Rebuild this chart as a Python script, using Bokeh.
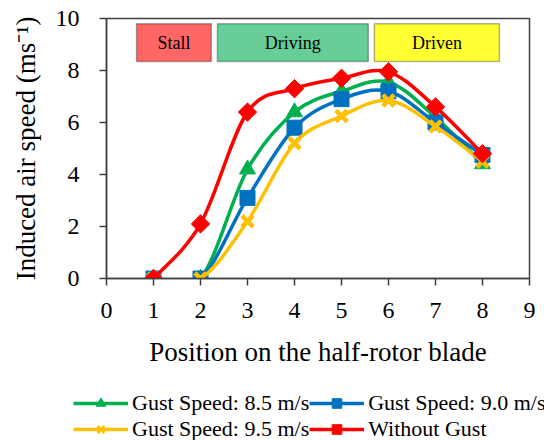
import math
from bokeh.plotting import figure
from bokeh.core.properties import value
from bokeh.models import (Legend, LegendItem, BoxAnnotation, FixedTicker,
                          Range1d, ColumnDataSource)
from bokeh.embed import file_html
from bokeh.resources import INLINE

positions = [1, 2, 3, 4, 5, 6, 7, 8]
gust_85 = [0, 0, 4.2, 6.4, 7.2, 7.55, 6.2, 4.4]
gust_90 = [0, 0, 3.1, 5.8, 6.9, 7.2, 6.0, 4.75]
gust_95 = [0, 0, 2.2, 5.2, 6.25, 6.85, 5.85, 4.5]
no_gust = [0, 2.1, 6.4, 7.3, 7.7, 7.95, 6.6, 4.8]

labels = ["Gust Speed: 8.5 m/s", "Gust Speed: 9.0 m/s",
          "Gust Speed: 9.5 m/s", "Without Gust"]
x_ticks = [0, 1, 2, 3, 4, 5, 6, 7, 8, 9]
y_ticks = [0, 2, 4, 6, 8, 10]
regions = ["Stall", "Driving", "Driven"]

FONT = "Liberation Serif"
NAN = float("nan")

p = figure(width=544, height=385, output_backend="svg", toolbar_location=None,
           x_range=Range1d(0, 9), y_range=Range1d(0, 10),
           min_border_left=106, min_border_right=15, min_border_top=18,
           min_border_bottom=107)
p.outline_line_color = "#404040"
p.outline_line_width = 1.5
p.grid.visible = False
p.background_fill_color = "white"
p.border_fill_color = "white"

for ax in (p.xaxis[0], p.yaxis[0]):
    ax.major_label_text_font = FONT
    ax.major_label_text_font_size = "24px"
    ax.major_label_text_color = "black"
    ax.axis_label_text_font = FONT
    ax.axis_label_text_font_style = "normal"
    ax.axis_label_text_color = "black"
    ax.axis_label_text_font_size = "27px"
    ax.minor_tick_line_color = None
    ax.major_tick_out = 7
    ax.major_tick_in = 0
    ax.axis_line_color = "#404040"
    ax.axis_line_width = 1.5
    ax.major_tick_line_color = "#404040"
    ax.major_tick_line_width = 1.5

p.xaxis[0].ticker = FixedTicker(ticks=x_ticks)
p.yaxis[0].ticker = FixedTicker(ticks=y_ticks)
p.xaxis[0].axis_label = "Position on the half-rotor blade"
p.yaxis[0].axis_label = "Induced air speed (ms\u207b\u00b9)"
p.xaxis[0].major_label_standoff = 17
p.yaxis[0].major_label_standoff = 20
p.xaxis[0].axis_label_standoff = 16
p.yaxis[0].axis_label_standoff = 12


def smooth(xs, ys, t=1/6):
    x0, y0, x1, y1, cx0, cy0, cx1, cy1 = [], [], [], [], [], [], [], []
    n = len(xs)
    for i in range(n - 1):
        xp, yp = (xs[i - 1], ys[i - 1]) if i > 0 else (xs[i], ys[i])
        xn, yn = (xs[i + 2], ys[i + 2]) if i + 2 < n else (xs[i + 1], ys[i + 1])
        x0.append(xs[i]); y0.append(ys[i])
        x1.append(xs[i + 1]); y1.append(ys[i + 1])
        cx0.append(xs[i] + (xs[i + 1] - xp) * t)
        cy0.append(ys[i] + (ys[i + 1] - yp) * t)
        cx1.append(xs[i + 1] - (xn - xs[i]) * t)
        cy1.append(ys[i + 1] - (yn - ys[i]) * t)
    return dict(x0=x0, y0=y0, x1=x1, y1=y1, cx0=cx0, cy0=cy0, cx1=cx1, cy1=cy1)


series = [
    (gust_85, "#00B050", "triangle", 16, 1, 0),
    (gust_90, "#0070C0", "square", 15, 1, 0),
    (gust_95, "#FFC000", "x", 16, 4.5, 0),
    (no_gust, "#FF0000", "square", 13, 1, math.pi / 4),
]

# region header boxes (under the data)
box_left = [0.64, 2.36, 5.70]
box_right = [2.23, 5.57, 8.36]
box_colors = ["#FF6666", "#66CE96", "#FFFF33"]
for l, r, c in zip(box_left, box_right, box_colors):
    p.add_layout(BoxAnnotation(left=l, right=r, bottom=8.35, top=9.8,
                               fill_color=c, fill_alpha=1, line_color="black",
                               line_width=1.5, level="underlay"))
txt_src = ColumnDataSource(dict(
    x=[(l + r) / 2 for l, r in zip(box_left, box_right)],
    y=[9.07] * 3, text=regions))
p.text(x="x", y="y", text="text", source=txt_src, text_align="center",
       text_baseline="middle", text_font=value(FONT), text_font_size="18px",
       text_color="black")

# legend figure (separate root so its frame spans the full width)
lf = figure(width=544, height=55, output_backend="svg", toolbar_location=None,
            x_range=Range1d(0, 1), y_range=Range1d(0, 1),
            x_axis_location=None, y_axis_location=None,
            min_border=0, outline_line_color=None)
lf.grid.visible = False

leg_items = []
for (vals, color, marker, size, lw, ang), lab in zip(series, labels):
    src = ColumnDataSource(smooth(positions, vals))
    p.bezier(x0="x0", y0="y0", x1="x1", y1="y1", cx0="cx0", cy0="cy0",
             cx1="cx1", cy1="cy1", source=src, line_color=color, line_width=3.5)
    p.scatter(positions, vals, marker=marker, size=size, fill_color=color,
              line_color=color, line_width=lw, angle=ang)
    pl = lf.line([NAN], [NAN], line_color=color, line_width=3.5)
    ps = lf.scatter([NAN], [NAN], marker=marker, fill_color=color,
                    line_color=color, line_width=min(lw, 3), angle=ang)
    leg_items.append(LegendItem(label=lab, renderers=[pl, ps]))

legend = Legend(items=leg_items, orientation="horizontal", ncols=2,
                location=(73, -2), label_text_font=FONT,
                label_text_font_size="22px", label_text_color="black",
                glyph_width=55, glyph_height=24, label_standoff=4,
                spacing=-6, padding=0, margin=0, border_line_color=None,
                background_fill_alpha=0, label_height=24)
lf.add_layout(legend, "center")

open("out.html", "w").write(file_html([p, lf], INLINE))
